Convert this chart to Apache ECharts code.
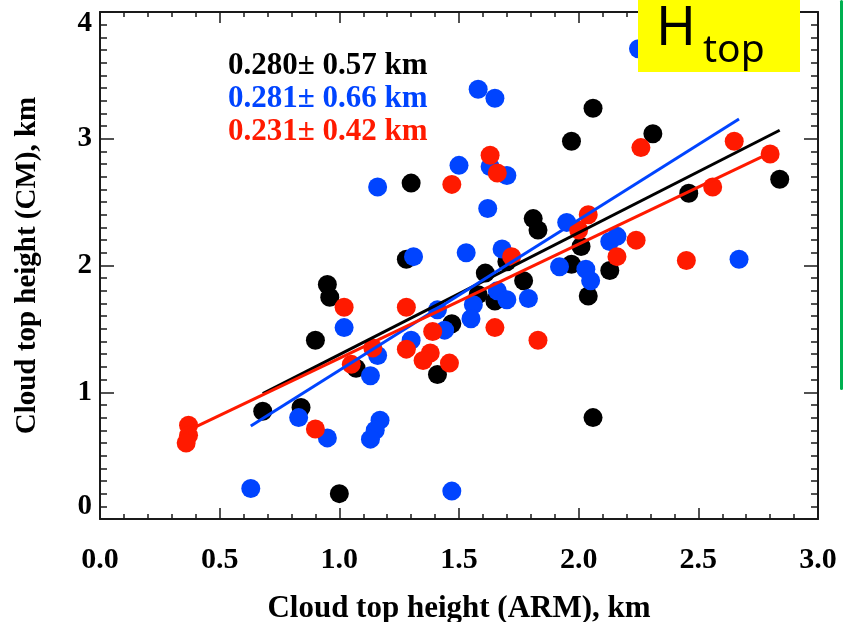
<!DOCTYPE html>
<html>
<head>
<meta charset="utf-8">
<title>Cloud top height</title>
<script src="https://cdn.jsdelivr.net/npm/echarts@6/dist/echarts.min.js"></script>
<style>
  html, body { margin: 0; padding: 0; background: #fff; }
  #main { width: 844px; height: 622px; }
</style>
</head>
<body>
<div id="main"></div>
<script>
// points (ARM x, CM y), km
const blackX = [1.30, 2.06, 1.97, 2.31, 2.84, 2.46, 1.81, 1.83, 2.01, 2.13, 2.04, 1.97, 1.70, 1.61, 1.77, 1.58, 1.65, 2.06, 1.28, 0.95, 0.96, 0.90, 1.47, 1.41, 1.07, 0.68, 0.84, 1.00]
const blackY = [2.65, 3.24, 2.98, 3.04, 2.68, 2.57, 2.37, 2.28, 2.15, 1.96, 1.76, 2.01, 2.03, 1.94, 1.88, 1.77, 1.72, 0.80, 2.05, 1.85, 1.75, 1.41, 1.54, 1.14, 1.19, 0.85, 0.88, 0.20]

const blueX = [2.25, 1.58, 1.65, 1.50, 1.16, 1.63, 1.70, 1.62, 1.31, 1.53, 1.68, 1.95, 2.13, 2.16, 1.92, 2.03, 2.05, 2.67, 1.66, 1.70, 1.79, 1.56, 1.55, 1.41, 1.44, 1.30, 1.16, 1.13, 1.02, 0.83, 0.95, 1.17, 1.15, 1.13, 0.63, 1.47]
const blueY = [3.71, 3.39, 3.32, 2.79, 2.62, 2.78, 2.71, 2.45, 2.07, 2.10, 2.13, 2.34, 2.19, 2.23, 1.99, 1.97, 1.88, 2.05, 1.80, 1.73, 1.74, 1.69, 1.58, 1.65, 1.49, 1.41, 1.29, 1.13, 1.51, 0.80, 0.64, 0.78, 0.70, 0.63, 0.24, 0.22]

const redX = [1.63, 1.47, 1.66, 2.26, 2.65, 2.80, 2.56, 2.04, 2.00, 2.24, 2.16, 2.45, 1.72, 1.65, 1.83, 1.02, 1.28, 1.14, 1.05, 1.28, 1.39, 1.38, 1.35, 1.46, 0.90, 0.37, 0.37, 0.36]
const redY = [2.87, 2.64, 2.73, 2.93, 2.98, 2.88, 2.62, 2.40, 2.28, 2.20, 2.07, 2.04, 2.07, 1.51, 1.41, 1.67, 1.67, 1.35, 1.22, 1.34, 1.48, 1.31, 1.25, 1.23, 0.71, 0.74, 0.66, 0.60]

// fit lines (black, blue, red)
const fitSlope = [0.962, 1.187, 0.900]
const fitIntercept = [0.335, -0.014, 0.368]
const statText = ['0.280\u00b1 0.57 km', '0.281\u00b1 0.66 km', '0.231\u00b1 0.42 km']

const xTicks = [0, 0.5, 1, 1.5, 2, 2.5, 3]
const yTicks = [0, 1, 2, 3, 4]

const colors = ['#000000', '#0044ff', '#ff1a00']
const serif = 'Liberation Serif'

function pairs(xs, ys) {
  return xs.map((x, i) => [x, ys[i]])
}

function fitLine(xs, k) {
  let x0 = Math.min(...xs)
  let x1 = Math.max(...xs)
  return [[x0, fitSlope[k] * x0 + fitIntercept[k]], [x1, fitSlope[k] * x1 + fitIntercept[k]]]
}

let myChart = echarts.init(document.getElementById('main'))

const boxLine = { show: true, onZero: false, lineStyle: { color: '#1a1a1a', width: 2 } }

// box axes, ticks pointing into the plot
function xAxisCfg(pos, labels) {
  return {
    type: 'value',
    position: pos,
    min: xTicks[0],
    max: xTicks[xTicks.length - 1],
    interval: 0.5,
    axisLine: boxLine,
    axisTick: { show: true, inside: true, length: 11, lineStyle: { color: '#1a1a1a', width: 1.5 } },
    minorTick: { show: true, splitNumber: 5, length: 5, lineStyle: { color: '#1a1a1a', width: 1.5 } },
    splitLine: { show: false },
    axisLabel: {
      show: labels,
      margin: 26,
      fontFamily: serif,
      fontWeight: 'bold',
      fontSize: 30,
      color: '#000',
      formatter: v => v.toFixed(1)
    }
  }
}

function yAxisCfg(pos, labels) {
  return {
    type: 'value',
    position: pos,
    min: yTicks[0],
    max: yTicks[yTicks.length - 1],
    interval: 1,
    axisLine: boxLine,
    axisTick: { show: true, inside: true, length: 14, lineStyle: { color: '#1a1a1a', width: 1.5 } },
    minorTick: { show: true, splitNumber: 10, length: 7, lineStyle: { color: '#1a1a1a', width: 1.5 } },
    splitLine: { show: false },
    axisLabel: {
      show: labels,
      margin: 8,
      fontFamily: serif,
      fontWeight: 'bold',
      fontSize: 29,
      lineHeight: 24,
      color: '#000',
      verticalAlignMinLabel: 'bottom',
      verticalAlignMaxLabel: 'top'
    }
  }
}

let xBottom = xAxisCfg('bottom', true)
xBottom.name = 'Cloud top height (ARM), km'
xBottom.nameLocation = 'middle'
xBottom.nameGap = 74
xBottom.nameTextStyle = { fontFamily: serif, fontWeight: 'bold', fontSize: 31, color: '#000' }

let yLeft = yAxisCfg('left', true)
yLeft.name = 'Cloud top height (CM), km'
yLeft.nameLocation = 'middle'
yLeft.nameGap = 58
yLeft.nameTextStyle = { fontFamily: serif, fontWeight: 'bold', fontSize: 29, color: '#000' }

let groups = [[blackX, blackY], [blueX, blueY], [redX, redY]]

let series = []
groups.forEach((g, k) => {
  series.push({
    type: 'scatter',
    symbol: 'circle',
    symbolSize: 19,
    itemStyle: { color: colors[k], opacity: 1 },
    data: pairs(g[0], g[1]),
    z: 2
  })
})
groups.forEach((g, k) => {
  series.push({
    type: 'line',
    showSymbol: false,
    lineStyle: { color: colors[k], width: 3 },
    data: fitLine(g[0], k),
    z: 3
  })
})

let option = {
  animation: false,
  backgroundColor: '#fff',
  grid: { left: 100, right: 26, top: 12, bottom: 103, outerBoundsMode: 'none' },
  xAxis: [xBottom, xAxisCfg('top', false)],
  yAxis: [yLeft, yAxisCfg('right', false)],
  series: series,
  graphic: [
    // stats text
    ...statText.map((t, k) => ({
      type: 'text',
      left: 228,
      top: 50 + k * 33,
      z: 50,
      style: { text: t, fill: colors[k], font: 'bold 31px "Liberation Serif"' }
    })),
    // H_top label box
    { type: 'rect', shape: { x: 638, y: 0, width: 162, height: 72 }, style: { fill: '#ffff00' }, z: 100 },
    { type: 'text', x: 656, y: 30, z: 101, style: { text: 'H', fill: '#000', font: '54px "Noto Sans"', verticalAlign: 'middle' } },
    { type: 'text', x: 703, y: 51, z: 101, style: { text: 'top', fill: '#000', font: '39px "Noto Sans"', verticalAlign: 'middle' } },
    // green bar at the right edge
    { type: 'rect', shape: { x: 840, y: 0, width: 3, height: 390, r: 1.5 }, style: { fill: '#00b050' }, z: 100 }
  ]
}

myChart.setOption(option)
</script>
</body>
</html>
